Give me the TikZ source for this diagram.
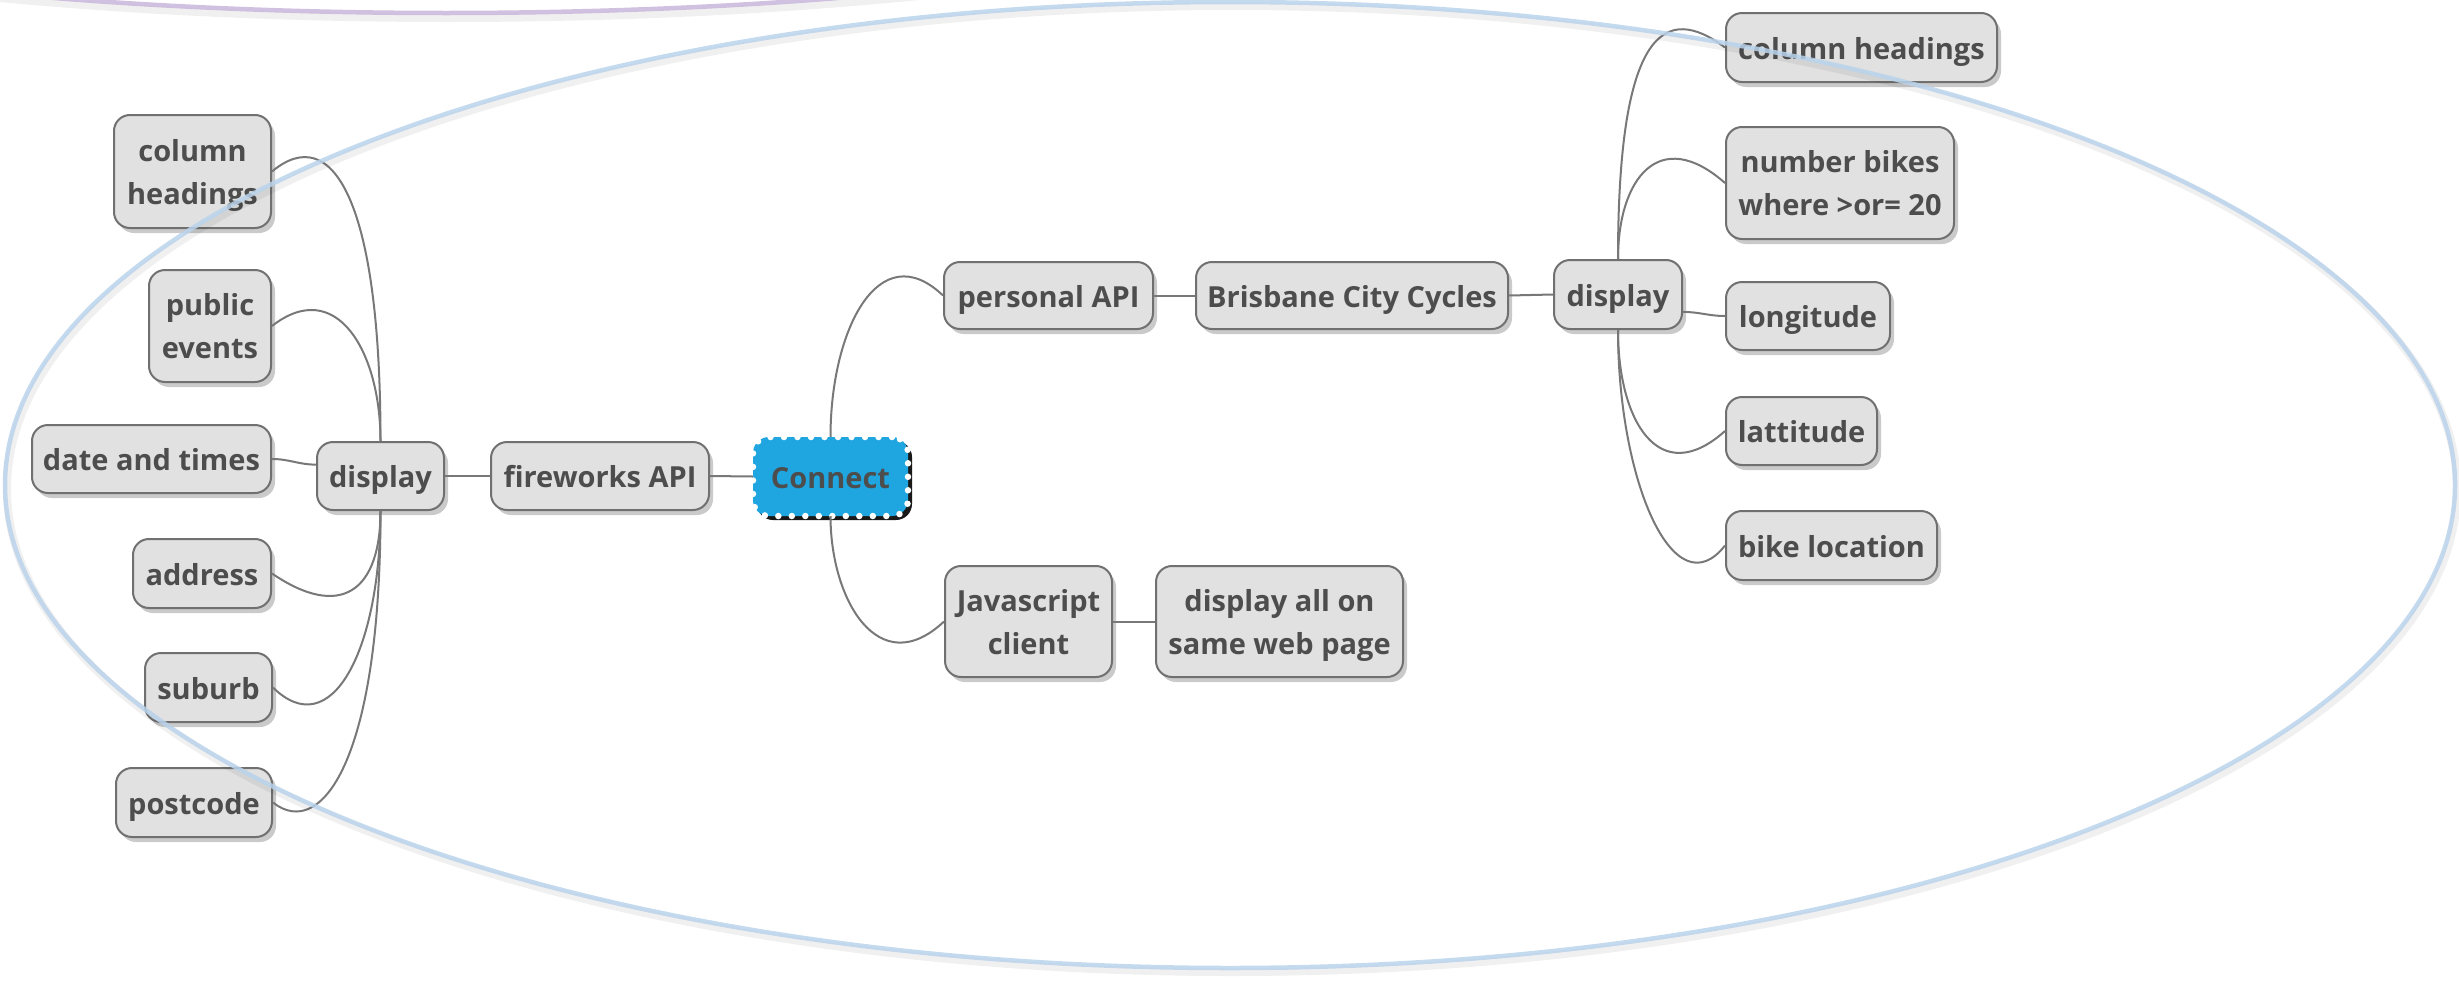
\documentclass[tikz,border=0pt]{standalone}
\usepackage{fontspec}
\setmainfont{Open Sans}
\usetikzlibrary{shadows}
\definecolor{txt}{RGB}{77,77,77}
\definecolor{bordc}{RGB}{112,112,112}
\definecolor{boxfill}{RGB}{225,225,225}
\definecolor{linec}{RGB}{120,120,120}
\definecolor{conblue}{RGB}{31,166,224}
\definecolor{ellblue}{RGB}{186,211,235}
\definecolor{ellpurple}{RGB}{200,182,220}
\begin{document}
\begin{tikzpicture}[x=1pt,y=-1pt,
  box/.style={draw=bordc, line width=2pt, fill=boxfill, rounded corners=16pt, text=txt,
    font=\fontsize{29}{43}\selectfont\bfseries, align=center, inner sep=0pt,
    drop shadow={shadow xshift=4pt, shadow yshift=-5pt, opacity=0.35, fill=black!60}},
  one/.style={text height=26pt, text depth=3pt},
  two/.style={text height=68pt, text depth=3pt},
  conbox/.style={draw=none, fill=conblue, rounded corners=16pt, text=txt,
    font=\fontsize{29}{43}\selectfont\bfseries, align=center, inner sep=0pt,
    text height=26pt, text depth=3pt,
    drop shadow={shadow xshift=4pt, shadow yshift=-4pt, opacity=0.9, fill=black},
    postaction={draw=white, line width=6.5pt, dash pattern=on 0pt off 13.5pt, line cap=round}},
  link/.style={draw=linec, line width=2pt},
  ring/.style={line width=4.5pt, opacity=0.85}]
\useasboundingbox (0,0) rectangle (2459,980);

% nodes
\node[conbox, minimum width=155pt, minimum height=79pt] (con) at (830.5,476.5) {Connect};
\node[box, one, minimum width=218pt, minimum height=68pt] (fw) at (600,476) {fireworks API};
\node[box, one, minimum width=127pt, minimum height=68pt] (dl) at (380.5,476) {display};
\node[box, two, minimum width=157pt, minimum height=113pt] (colL) at (192.5,171.5) {column\\headings};
\node[box, two, minimum width=122pt, minimum height=112pt] (pubE) at (210,326) {public\\events};
\node[box, one, minimum width=239pt, minimum height=68pt] (date) at (151.5,459) {date and times};
\node[box, one, minimum width=138pt, minimum height=69pt] (addr) at (202,573.5) {address};
\node[box, one, minimum width=127pt, minimum height=69pt] (sub) at (208.5,687.5) {suburb};
\node[box, one, minimum width=156pt, minimum height=69pt] (post) at (194,802.5) {postcode};
\node[box, one, minimum width=209pt, minimum height=67pt] (pers) at (1048.5,295.5) {personal API};
\node[box, one, minimum width=312pt, minimum height=67pt] (bris) at (1352,295.5) {Brisbane City Cycles};
\node[box, one, minimum width=128pt, minimum height=69pt] (dr) at (1618,294.5) {display};
\node[box, one, minimum width=271pt, minimum height=69pt] (colR) at (1861.5,47.5) {column headings};
\node[box, two, minimum width=228pt, minimum height=112pt] (numB) at (1840,183) {number bikes\\where >or= 20};
\node[box, one, minimum width=164pt, minimum height=68pt] (lon) at (1808,316) {longitude};
\node[box, one, minimum width=151pt, minimum height=68pt] (lat) at (1801.5,431) {lattitude};
\node[box, one, minimum width=211pt, minimum height=69pt] (bike) at (1831.5,545.5) {bike location};
\node[box, two, minimum width=167pt, minimum height=111pt] (js) at (1028.5,621.5) {Javascript\\client};
\node[box, two, minimum width=247pt, minimum height=111pt] (dall) at (1279.5,621.5) {display all on\\same web page};

% connectors
\draw[link] (con.west) -- (fw.east);
\draw[link] (fw.west) -- (dl.east);
\draw[link] (pers.east) -- (bris.west);
\draw[link] (bris.east) -- (dr.west);
\draw[link] (js.east) -- (dall.west);
\draw[link] (con.north) .. controls +(0,-107) and +(-64,-61) .. (pers.west);
\draw[link] (con.south) .. controls +(0,84) and +(-65,61) .. (js.west);
% left display
\draw[link] (dl.north) .. controls +(0,-242) and +(60,-50) .. (colL.east);
\draw[link] (dl.north) .. controls +(0,-90) and +(64,-50) .. (pubE.east);
\draw[link] (dl.170) to[out=180,in=0] (date.east);
\draw[link] (dl.south) .. controls +(0,80) and +(69,47) .. (addr.east);
\draw[link] (dl.south) .. controls +(0,140) and +(58,57) .. (sub.east);
\draw[link] (dl.south) .. controls +(0,250) and +(48,38) .. (post.east);
% right display
\draw[link] (dr.north) .. controls +(0,-230) and +(-60,-45) .. (colR.west);
\draw[link] (dr.north) .. controls +(0,-80) and +(-66,-58) .. (numB.west);
\draw[link] (dr.-15) to[out=0,in=180] (lon.west);
\draw[link] (dr.south) .. controls +(0,91) and +(-66,59) .. (lat.west);
\draw[link] (dr.south) .. controls +(0,151) and +(-51,65) .. (bike.west);

% boundaries
\begin{scope}
\clip (0,0) rectangle (2459,980);
\draw[black, line width=8pt, opacity=0.06] (449,-195) ellipse [x radius=1060pt, y radius=213pt];
\draw[ellpurple, ring] (446,-200) ellipse [x radius=1060pt, y radius=213pt];
\draw[black, line width=8pt, opacity=0.06] (1232,489) ellipse [x radius=1225pt, y radius=483pt];
\draw[ellblue, ring] (1230,485) ellipse [x radius=1225pt, y radius=483pt];
\end{scope}
\end{tikzpicture}
\end{document}
